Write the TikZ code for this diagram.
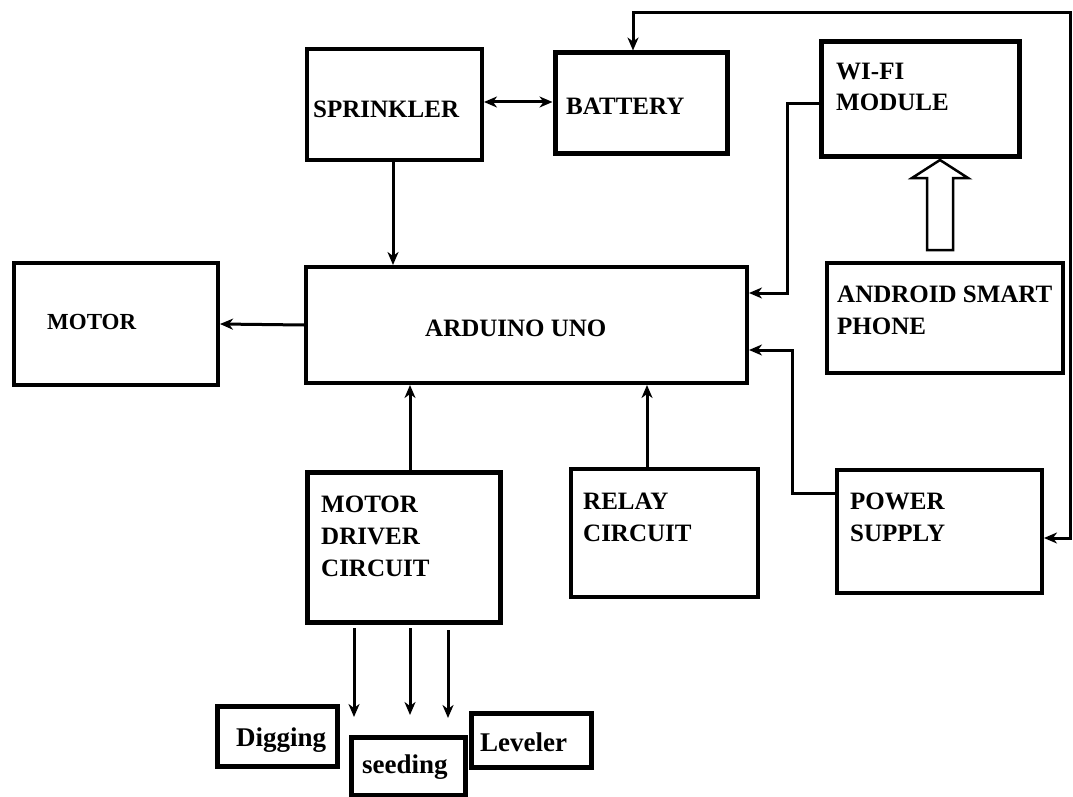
\documentclass[tikz,border=0pt]{standalone}
\usepackage{fontspec}
\setmainfont{Liberation Serif}
\usetikzlibrary{arrows.meta,calc}
\begin{document}
\begin{tikzpicture}[x=1pt,y=-1pt,
  box/.style={draw, line width=4pt, inner sep=0pt},
  tbox/.style={draw, line width=5pt, inner sep=0pt},
  lbl/.style={font=\fontsize{25}{32}\selectfont\bfseries, anchor=base west, inner sep=0pt, align=left},
  slbl/.style={font=\fontsize{23}{30}\selectfont\bfseries, anchor=base west, inner sep=0pt},
  blbl/.style={font=\fontsize{27}{32}\selectfont\bfseries, anchor=base west, inner sep=0pt},
  tip/.tip={Stealth[length=13pt,width=11pt,inset=4pt]},
  conn/.style={line width=3pt, -tip},
  conn2/.style={line width=3pt, tip-tip},
]
\useasboundingbox[fill=white] (0,0) rectangle (1073,797);

% boxes
\node[box, minimum width=175pt, minimum height=111pt] (spr) at (394.5,104.5) {};
\node[tbox, minimum width=172pt, minimum height=100pt] (bat) at (641,103) {};
\node[tbox, minimum width=198pt, minimum height=114pt] (wifi) at (920,99) {};
\node[box, minimum width=204pt, minimum height=122pt] (mot) at (116,324) {};
\node[box, minimum width=441pt, minimum height=116pt] (ard) at (526.5,325) {};
\node[box, minimum width=236pt, minimum height=110pt] (andr) at (945,318) {};
\node[tbox, minimum width=193pt, minimum height=150pt] (drv) at (403.5,547) {};
\node[box, minimum width=187pt, minimum height=128pt] (rel) at (664.5,533) {};
\node[box, minimum width=205pt, minimum height=123pt] (pwr) at (939.5,531.5) {};
\node[tbox, minimum width=120pt, minimum height=60pt] (dig) at (277,736) {};
\node[tbox, minimum width=114pt, minimum height=58pt] (seed) at (408,766) {};
\node[tbox, minimum width=120pt, minimum height=54pt] (lev) at (531,740) {};

% labels (multi-line labels anchored at the baseline of their last line)
\node[lbl] (sprT) at (313,118) {SPRINKLER};
\node[lbl] (batT) at (566,115) {BATTERY};
\node[lbl] (wifiT) at (836,111) {WI-FI\\MODULE};
\node[slbl] (motT) at (47,329) {MOTOR};
\node[lbl] (ardT) at (425,336) {ARDUINO UNO};
\node[lbl] (andrT) at (837,334) {ANDROID SMART\\PHONE};
\node[lbl] (drvT) at (321,576) {MOTOR\\DRIVER\\CIRCUIT};
\node[lbl] (relT) at (583,541) {RELAY\\CIRCUIT};
\node[lbl] (pwrT) at (850,541) {POWER\\SUPPLY};
\node[blbl] (digT) at (236,746) {Digging};
\node[blbl] (seedT) at (362,773) {seeding};
\node[blbl] (levT) at (480,751) {Leveler};

% helper coordinates
\coordinate (tl) at (633,13);
\coordinate (tr) at (1070,13);
\coordinate (br) at (1070,538);
\coordinate (wf1) at (787,104);
\coordinate (wf2) at (787,293);
\coordinate (p1) at (792,493);
\coordinate (p2) at (792,350);
\coordinate (dx) at (410,0);
\coordinate (rx) at (647,0);
\coordinate (sx) at (393,0);
\coordinate (a1s) at (354,628);
\coordinate (a1e) at (354,717);
\coordinate (a2s) at (410,628);
\coordinate (a2e) at (410,715);
\coordinate (a3s) at (448,630);
\coordinate (a3e) at (448,718);

% connectors
\draw[conn2] (spr.east |- 0,102) -- (bat.west |- 0,102);
\draw[conn] (spr.south -| sx) -- (ard.north -| sx);
\draw[conn] (ard.west) -- (mot.east);
\draw[conn2] (tl |- bat.north) -- (tl) -- (tr) -- (br) -- (br -| pwr.east);
\draw[conn] (wf1 -| wifi.west) -- (wf1) -- (wf2) -- (wf2 -| ard.east);
\draw[conn] (p1 -| pwr.west) -- (p1) -- (p2) -- (p2 -| ard.east);
\draw[conn] (drv.north -| dx) -- (ard.south -| dx);
\draw[conn] (rel.north -| rx) -- (ard.south -| rx);
\draw[conn] (a1s) -- (a1e);
\draw[conn] (a2s) -- (a2e);
\draw[conn] (a3s) -- (a3e);

% hollow block arrow from phone to wifi
\draw[line width=2.5pt, line join=miter]
  (927,250) -- (927,178) -- (912,178) -- (940,160) -- (968,178) -- (953,178) -- (953,250) -- cycle;
\end{tikzpicture}
\end{document}
